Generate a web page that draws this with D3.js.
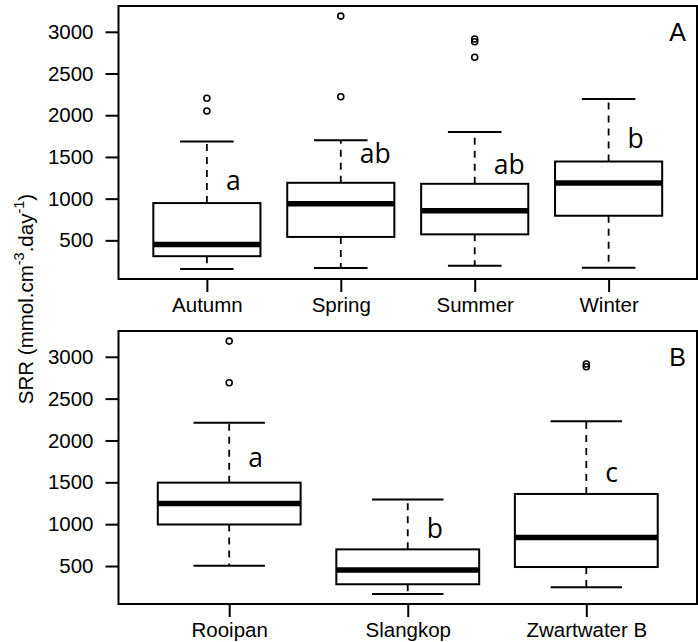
<!DOCTYPE html>
<html>
<head>
<meta charset="utf-8">
<script src="https://cdn.jsdelivr.net/npm/d3@7"></script>
<style>
  body { margin: 0; background: #fff; }
  text { font-family: "Liberation Sans", Arial, sans-serif; }
  .letter { font-family: "Open Sans", sans-serif; }
</style>
</head>
<body>
<div id="chart"></div>
<script>
const w = 698,
    h = 642;

// panel A - seasons
const seasons = ["Autumn", "Spring", "Summer", "Winter"];
const seasonLow = [158, 170, 197, 173];
const seasonQ1 = [310, 541, 572, 795];
const seasonMed = [449, 939, 855, 1187];
const seasonQ3 = [947, 1190, 1178, 1445];
const seasonHigh = [1684, 1701, 1800, 2195];
const seasonOut = [[2203, 2051], [3188, 2222], [2913, 2880, 2694], []];
const seasonLetters = ["a", "ab", "ab", "b"];
const seasonLetterY = [1098, 1426, 1298, 1605];

// panel B - sites
const sites = ["Rooipan", "Slangkop", "Zwartwater B"];
const siteLow = [503, 167, 246];
const siteQ1 = [996, 282, 488];
const siteMed = [1246, 452, 842];
const siteQ3 = [1496, 699, 1361];
const siteHigh = [2211, 1294, 2230];
const siteOut = [[3187, 2690], [], [2913, 2881]];
const siteLetters = ["a", "b", "c"];
const siteLetterY = [1682, 830, 1504];

const yTicks = [500, 1000, 1500, 2000, 2500, 3000];

const left = 118.5, right = 697;

const svg = d3.select("#chart")
    .append("svg")
    .attr("width", w)
    .attr("height", h);

svg.append("rect").attr("width", w).attr("height", h).attr("fill", "#fff");

function drawPanel(cats, low, q1, med, q3, high, outs, letters, letterY, tag, top, bottom) {
    const g = svg.append("g");
    const n = cats.length;

    // same padding as R: 4% on each side
    const all = low.concat(high, d3.merge(outs));
    const lo = d3.min(all), hi = d3.max(all), pad = (hi - lo) * 0.04;

    const y = d3.scaleLinear()
        .domain([lo - pad, hi + pad])
        .range([bottom, top]);

    const x = d3.scaleLinear()
        .domain([0.5 - n * 0.04, n + 0.5 + n * 0.04])
        .range([left, right]);

    const halfBox = 0.4, halfCap = 0.2;

    const boxes = g.selectAll(".box")
        .data(cats.map(function (c, i) {
            return { i: i + 1, low: low[i], q1: q1[i], med: med[i], q3: q3[i], high: high[i], out: outs[i], letter: letters[i], ly: letterY[i] };
        }))
        .enter()
        .append("g");

    // whiskers
    boxes.append("line")
        .attr("x1", d => x(d.i)).attr("x2", d => x(d.i))
        .attr("y1", d => y(d.q3)).attr("y2", d => y(d.high))
        .attr("stroke", "#000").attr("stroke-width", 1.8).attr("stroke-dasharray", "7,6");
    boxes.append("line")
        .attr("x1", d => x(d.i)).attr("x2", d => x(d.i))
        .attr("y1", d => y(d.q1)).attr("y2", d => y(d.low))
        .attr("stroke", "#000").attr("stroke-width", 1.8).attr("stroke-dasharray", "7,6");

    // caps
    boxes.append("line")
        .attr("x1", d => x(d.i - halfCap)).attr("x2", d => x(d.i + halfCap))
        .attr("y1", d => y(d.high)).attr("y2", d => y(d.high))
        .attr("stroke", "#000").attr("stroke-width", 2);
    boxes.append("line")
        .attr("x1", d => x(d.i - halfCap)).attr("x2", d => x(d.i + halfCap))
        .attr("y1", d => y(d.low)).attr("y2", d => y(d.low))
        .attr("stroke", "#000").attr("stroke-width", 2);

    // box
    boxes.append("rect")
        .attr("x", d => x(d.i - halfBox))
        .attr("width", d => x(d.i + halfBox) - x(d.i - halfBox))
        .attr("y", d => y(d.q3))
        .attr("height", d => y(d.q1) - y(d.q3))
        .attr("fill", "#fff").attr("stroke", "#000").attr("stroke-width", 2);

    // median
    boxes.append("line")
        .attr("x1", d => x(d.i - halfBox)).attr("x2", d => x(d.i + halfBox))
        .attr("y1", d => y(d.med)).attr("y2", d => y(d.med))
        .attr("stroke", "#000").attr("stroke-width", 5.5);

    // outliers
    boxes.selectAll("circle")
        .data(d => d.out.map(v => ({ i: d.i, v: v })))
        .enter()
        .append("circle")
        .attr("cx", d => x(d.i))
        .attr("cy", d => y(d.v))
        .attr("r", 3)
        .attr("fill", "none").attr("stroke", "#000").attr("stroke-width", 1.6);

    // significance letters
    boxes.append("text")
        .attr("class", "letter")
        .attr("x", d => x(d.i) + 19)
        .attr("y", d => y(d.ly))
        .attr("font-size", 26.5)
        .text(d => d.letter);

    // frame
    g.append("rect")
        .attr("x", left).attr("y", top)
        .attr("width", right - left).attr("height", bottom - top)
        .attr("fill", "none").attr("stroke", "#000").attr("stroke-width", 2);

    g.append("text")
        .attr("x", right - 11)
        .attr("y", top + 35)
        .attr("text-anchor", "end")
        .attr("font-size", 25)
        .text(tag);

    // axes
    const yAxis = g.append("g")
        .attr("transform", "translate(" + left + ",0)")
        .call(d3.axisLeft(y).tickValues(yTicks).tickSize(13).tickPadding(12)
            .tickFormat(d3.format("d")));
    const xAxis = g.append("g")
        .attr("transform", "translate(0," + bottom + ")")
        .call(d3.axisBottom(x).tickValues(d3.range(1, n + 1)).tickSize(13).tickPadding(5)
            .tickFormat(d => cats[d - 1]));

    [yAxis, xAxis].forEach(function (a) {
        a.select(".domain").remove();
        a.selectAll("line").attr("stroke", "#000").attr("stroke-width", 2);
        a.selectAll("text")
            .attr("fill", "#000")
            .attr("font-size", 20.5)
            .attr("font-family", "Liberation Sans, Arial, sans-serif");
    });
}

drawPanel(seasons, seasonLow, seasonQ1, seasonMed, seasonQ3, seasonHigh, seasonOut, seasonLetters, seasonLetterY, "A", 6, 279);
drawPanel(sites, siteLow, siteQ1, siteMed, siteQ3, siteHigh, siteOut, siteLetters, siteLetterY, "B", 331, 604);

// y title
const title = svg.append("text")
    .attr("transform", "translate(33,299) rotate(-90)")
    .attr("text-anchor", "middle")
    .attr("font-size", 20.5);
title.append("tspan").text("SRR (mmol.cm");
title.append("tspan").attr("font-size", 14.5).attr("dy", -9).text("-3");
title.append("tspan").attr("dy", 9).text(".day");
title.append("tspan").attr("font-size", 14.5).attr("dy", -9).text("-1");
title.append("tspan").attr("dy", 9).text(")");
</script>
</body>
</html>
